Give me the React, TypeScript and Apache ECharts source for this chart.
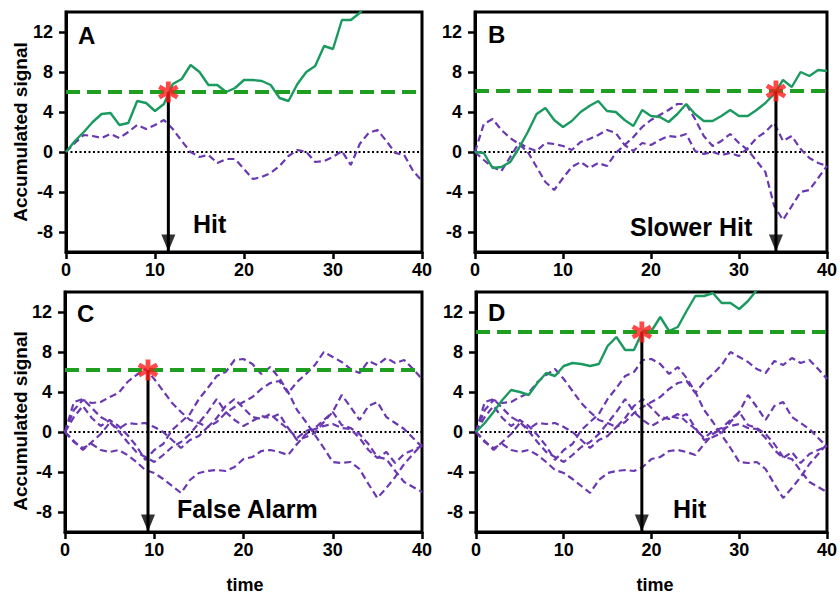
import React, { useEffect, useRef } from "react";
import * as echarts from "echarts";

// ---------------- data ----------------
const time = [0, 1, 2, 3, 4, 5, 6, 7, 8, 9, 10, 11, 12, 13, 14, 15, 16, 17, 18, 19, 20,
  21, 22, 23, 24, 25, 26, 27, 28, 29, 30, 31, 32, 33, 34, 35, 36, 37, 38, 39, 40];
const xTicks = [0, 10, 20, 30, 40];
const yTicks = [-8, -4, 0, 4, 8, 12];
const yRange = [-10, 14];
const xRange = [0, 40];

// Panel A
const signalA = [0, 1.1, 2.0, 3.0, 3.8, 3.9, 2.7, 2.9, 5.1, 4.9, 4.1, 4.8, 6.8, 7.3, 8.7, 8.0, 6.7, 6.7, 6.0, 6.4, 7.2,
  7.2, 7.1, 6.7, 5.4, 5.1, 6.8, 8.0, 8.6, 10.6, 10.3, 13.2, 13.2, 13.9, 15.2, 16.4];
const noiseA1 = [0, 0.9, 1.7, 1.6, 1.4, 1.8, 1.4, 2.0, 2.7, 2.3, 2.7, 3.2, 2.3, 1.1, 0.0, -0.5, -0.3, -1.1, -0.7, -0.7, -1.7,
  -2.7, -2.5, -2.1, -1.4, -0.4, 0.2, 0.0, -1.0, -0.9, -0.5, 0.1, -1.3, 0.8, 1.9, 2.2, 1.1, -0.1, -0.3, -1.9, -2.9];

// Panel B
const signalB = [0, -0.1, -1.6, -1.5, -1.0, 0.4, 2.0, 3.8, 4.4, 3.2, 2.5, 3.1, 4.0, 4.6, 5.1, 4.1, 4.0, 3.2, 2.6, 4.2, 3.6,
  3.5, 3.0, 3.8, 4.8, 3.8, 3.1, 3.1, 3.6, 4.2, 3.6, 3.6, 4.2, 4.9, 5.8, 7.2, 6.5, 8.0, 7.6, 8.2, 8.1];
const noiseB1 = [0, 2.8, 3.3, 2.2, 1.4, 0.8, 0.0, -1.5, -3.0, -3.8, -2.6, -1.5, -1.0, -1.6, -1.1, -1.4, -0.1, 0.7, 1.5, 2.5, 3.2,
  3.7, 4.2, 4.8, 4.8, 3.3, 1.6, 0.6, 1.1, 1.8, 0.9, 0.2, -0.9, -2.0, -5.4, -6.8, -5.4, -4.0, -3.8, -2.6, -1.4];
const noiseB2 = [0, -0.8, -1.5, -1.9, -0.5, 0.9, 0.4, 0.1, 0.9, 0.8, 0.6, 0.2, 1.0, 1.3, 1.7, 2.2, 1.9, 0.7, 0.1, 0.9, 0.7,
  1.2, 1.6, 1.5, 1.8, 0.1, -0.2, 0.0, -0.3, -0.1, -0.4, 0.4, 1.4, 2.0, 2.9, 1.1, 1.6, 0.3, -0.6, -1.1, -1.4];

// Panels C and D (shared noise walks)
const noiseCD1 = [0, 2.2, 3.2, 2.9, 3.0, 3.5, 3.9, 5.0, 5.7, 6.3, 5.3, 4.1, 2.9, 2.0, 1.2, 0.9, 0.5, 1.4, 2.6, 3.3, 2.4,
  1.5, 1.3, 1.8, 1.0, 0.3, -0.6, 0.1, 0.4, 1.2, 2.0, 0.7, 0.4, -0.2, -1.2, -2.5, -2.7, -3.9, -5.0, -5.5, -6.0];
const noiseCD2 = [0, 1.5, 2.6, 1.4, 0.6, 1.2, 0.6, -0.3, -1.4, -2.8, -1.8, -1.2, 0.2, 1.0, 1.8, 3.3, 4.4, 5.6, 6.0, 7.2, 7.3,
  6.8, 5.8, 6.5, 5.4, 4.0, 2.2, 1.0, -0.3, -1.6, -3.0, -3.1, -3.0, -3.7, -5.2, -6.6, -5.6, -4.5, -3.2, -2.2, -1.2];
const noiseCD3 = [0, -0.9, -1.8, -1.0, -0.2, 0.9, 0.3, 0.9, 0.8, 0.9, 0.5, 0.0, -0.8, -1.6, -0.8, -0.4, 0.5, 1.0, 1.9, 2.5, 3.0,
  3.5, 4.3, 4.9, 5.1, 3.9, 5.0, 5.8, 6.7, 8.0, 7.5, 7.0, 6.3, 5.9, 7.1, 6.7, 7.4, 6.9, 7.2, 6.3, 5.3];
const noiseCD4 = [0, -1.0, -1.6, -1.2, -1.8, -2.0, -1.8, -2.3, -3.0, -3.8, -4.1, -4.7, -5.4, -6.1, -4.8, -4.1, -3.9, -3.8, -3.9, -3.5, -2.7,
  -2.5, -1.9, -1.8, -2.0, -2.3, -1.2, -0.2, 0.3, 0.6, 0.8, 0.4, 0.3, -0.6, -1.8, -2.6, -2.0, -3.1, -2.2, -1.8, -1.4];
const noiseCD5 = [0, 3.0, 3.3, 2.4, 1.5, 1.0, 0.1, -1.0, -2.0, -2.5, -3.0, -2.3, -1.5, -1.0, -0.2, 0.9, 2.0, 3.3, 2.0, 1.2, 0.6,
  1.1, 1.6, 1.4, 1.8, 0.4, -0.8, -0.5, -0.1, 1.0, 2.0, 3.7, 2.5, 1.2, 2.6, 3.0, 1.5, 0.9, 0.3, -0.6, -1.5];
const signalD = [0, 0.9, 2.0, 3.2, 4.2, 4.0, 3.7, 4.9, 5.9, 5.6, 6.6, 6.9, 6.8, 6.6, 6.8, 8.6, 9.5, 8.2, 8.2, 10.1, 10.1,
  11.5, 10.1, 10.5, 12.1, 13.6, 13.6, 13.9, 12.9, 12.9, 12.3, 13.1, 14.2, 15.3];

const panelLetters = ["A", "B", "C", "D"];
const thresholds = [6.0, 6.1, 6.2, 10.0];
const hitTimes = [11.5, 34.2, 9.3, 18.9];
const outcomeLabels = ["Hit", "Slower Hit", "False Alarm", "Hit"];
const yAxisTitle = "Accumulated signal";
const xAxisTitle = "time";

const signals = [signalA, signalB, null, signalD];
const noises = [
  [noiseA1],
  [noiseB1, noiseB2],
  [noiseCD1, noiseCD2, noiseCD3, noiseCD4, noiseCD5],
  [noiseCD1, noiseCD2, noiseCD3, noiseCD4, noiseCD5],
];

// ---------------- layout / style ----------------
const FONT = '"Liberation Sans", Arial, Helvetica, sans-serif';
const grids = [
  { left: 66, top: 12, width: 356, height: 240 },
  { left: 475, top: 12, width: 359, height: 240 },
  { left: 65, top: 292, width: 357, height: 240 },
  { left: 476, top: 292, width: 358, height: 240 },
];
const letterPos = [[78, 35], [488, 34], [77, 313], [488, 312]];
const outcomePos = [[193, 224], [630, 227], [177, 509], [673, 509]];
const yTitlePos = [[20, 132], [20, 421]];
const xTitlePos = [[245, 585], [655, 585]];

const GREEN_WALK = "#1b9a60";
const PURPLE = "#6a38b0";
const THRESH = "#1f9f22";
const RED = "#ff1a1a";

function asteriskPath(): string {
  const L = 10, w = 2.3;
  const parts: string[] = [];
  [90, 30, 150].forEach((deg) => {
    const a = (deg * Math.PI) / 180;
    const dx = Math.cos(a), dy = Math.sin(a);
    const nx = -dy, ny = dx;
    const pts = [
      [dx * L + nx * w, dy * L + ny * w],
      [dx * L - nx * w, dy * L - ny * w],
      [-dx * L - nx * w, -dy * L - ny * w],
      [-dx * L + nx * w, -dy * L + ny * w],
    ];
    parts.push("M" + pts.map((p) => p[0].toFixed(2) + "," + p[1].toFixed(2)).join("L") + "Z");
  });
  return "path://" + parts.join(" ");
}

const arrowHead = "path://M0,0L12,0L6,14Z";

function pairs(values: number[]) {
  return values.map((v, i) => [time[i], v]);
}

function buildOption() {
  const xAxis: any[] = [];
  const yAxis: any[] = [];
  const series: any[] = [];
  const star = asteriskPath();

  grids.forEach((g, i) => {
    xAxis.push({
      gridIndex: i,
      type: "value",
      min: xRange[0],
      max: xRange[1],
      interval: xTicks[1] - xTicks[0],
      axisLine: { show: true, onZero: false, lineStyle: { color: "#000", width: 3 } },
      axisTick: { show: true, length: 7, lineStyle: { color: "#000", width: 2.5 } },
      axisLabel: { color: "#000", fontSize: 18, fontWeight: "bold", fontFamily: FONT, margin: 9 },
      splitLine: { show: false },
    });
    yAxis.push({
      gridIndex: i,
      type: "value",
      min: yRange[0],
      max: yRange[1],
      axisLine: { show: true, onZero: false, lineStyle: { color: "#000", width: 3 } },
      axisTick: { show: true, length: 7, customValues: yTicks, lineStyle: { color: "#000", width: 2.5 } },
      axisLabel: { customValues: yTicks, color: "#000", fontSize: 18, fontWeight: "bold", fontFamily: FONT, margin: 13 },
      splitLine: { show: false },
    });

    // zero line
    series.push({
      type: "line", xAxisIndex: i, yAxisIndex: i, silent: true, z: 2,
      data: [[xRange[0], 0], [xRange[1], 0]], symbol: "none",
      lineStyle: { color: "#000", width: 2, type: [2, 2.5] },
    });
    // noise walks
    noises[i].forEach((n) => {
      series.push({
        type: "line", xAxisIndex: i, yAxisIndex: i, silent: true, z: 3,
        data: pairs(n), symbol: "none", clip: true,
        lineStyle: { color: PURPLE, width: 2.2, type: [7, 4] },
      });
    });
    // signal walk
    const s = signals[i];
    if (s) {
      series.push({
        type: "line", xAxisIndex: i, yAxisIndex: i, silent: true, z: 4,
        data: pairs(s), symbol: "none", clip: true,
        lineStyle: { color: GREEN_WALK, width: 2.4, type: "solid" },
      });
    }
    // threshold
    series.push({
      type: "line", xAxisIndex: i, yAxisIndex: i, silent: true, z: 5,
      data: [[xRange[0], thresholds[i]], [xRange[1], thresholds[i]]], symbol: "none",
      lineStyle: { color: THRESH, width: 3.8, type: [14, 7] },
    });
    // arrow shaft
    series.push({
      type: "line", xAxisIndex: i, yAxisIndex: i, silent: true, z: 6,
      data: [[hitTimes[i], thresholds[i]], [hitTimes[i], yRange[0]]], symbol: "none",
      lineStyle: { color: "#000", width: 3, type: "solid" },
    });
    // arrow head
    series.push({
      type: "scatter", xAxisIndex: i, yAxisIndex: i, silent: true, z: 7,
      data: [[hitTimes[i], yRange[0]]], symbol: arrowHead, symbolSize: [14, 17],
      symbolOffset: [0, -9], itemStyle: { color: "#000" },
    });
    // star
    series.push({
      type: "scatter", xAxisIndex: i, yAxisIndex: i, silent: true, z: 8,
      data: [[hitTimes[i], thresholds[i]]], symbol: star, symbolSize: 21, symbolKeepAspect: true,
      itemStyle: { color: RED },
    });
  });

  const graphic: any[] = [];
  panelLetters.forEach((l, i) => {
    graphic.push({
      type: "text", x: letterPos[i][0], y: letterPos[i][1], silent: true, z: 20,
      style: { text: l, fill: "#000", fontSize: 24, fontWeight: "bold", fontFamily: FONT, textAlign: "left", textVerticalAlign: "middle" },
    });
    graphic.push({
      type: "text", x: outcomePos[i][0], y: outcomePos[i][1], silent: true, z: 20,
      style: { text: outcomeLabels[i], fill: "#000", fontSize: 25, fontWeight: "bold", fontFamily: FONT, textAlign: "left", textVerticalAlign: "middle" },
    });
  });
  yTitlePos.forEach((p) => {
    graphic.push({
      type: "text", x: p[0], y: p[1], rotation: Math.PI / 2, silent: true, z: 20,
      style: { text: yAxisTitle, fill: "#000", fontSize: 19, fontWeight: "bold", fontFamily: FONT, textAlign: "center", textVerticalAlign: "middle" },
    });
  });
  xTitlePos.forEach((p) => {
    graphic.push({
      type: "text", x: p[0], y: p[1], silent: true, z: 20,
      style: { text: xAxisTitle, fill: "#000", fontSize: 18, fontWeight: "bold", fontFamily: FONT, textAlign: "center", textVerticalAlign: "middle" },
    });
  });

  return {
    animation: false,
    backgroundColor: "#fff",
    grid: grids.map((g) => ({ ...g, show: true, borderColor: "#000", borderWidth: 3, backgroundColor: "transparent" })),
    xAxis,
    yAxis,
    series,
    graphic,
  };
}

export default function App() {
  const ref = useRef<HTMLDivElement>(null);
  useEffect(() => {
    if (!ref.current) return;
    const chart = echarts.init(ref.current, null, { renderer: "svg" });
    chart.setOption(buildOption() as any);
    return () => chart.dispose();
  }, []);
  return (
    <div
      ref={ref}
      style={{ position: "fixed", left: 0, top: 0, width: 840, height: 594, background: "#fff" }}
    />
  );
}
